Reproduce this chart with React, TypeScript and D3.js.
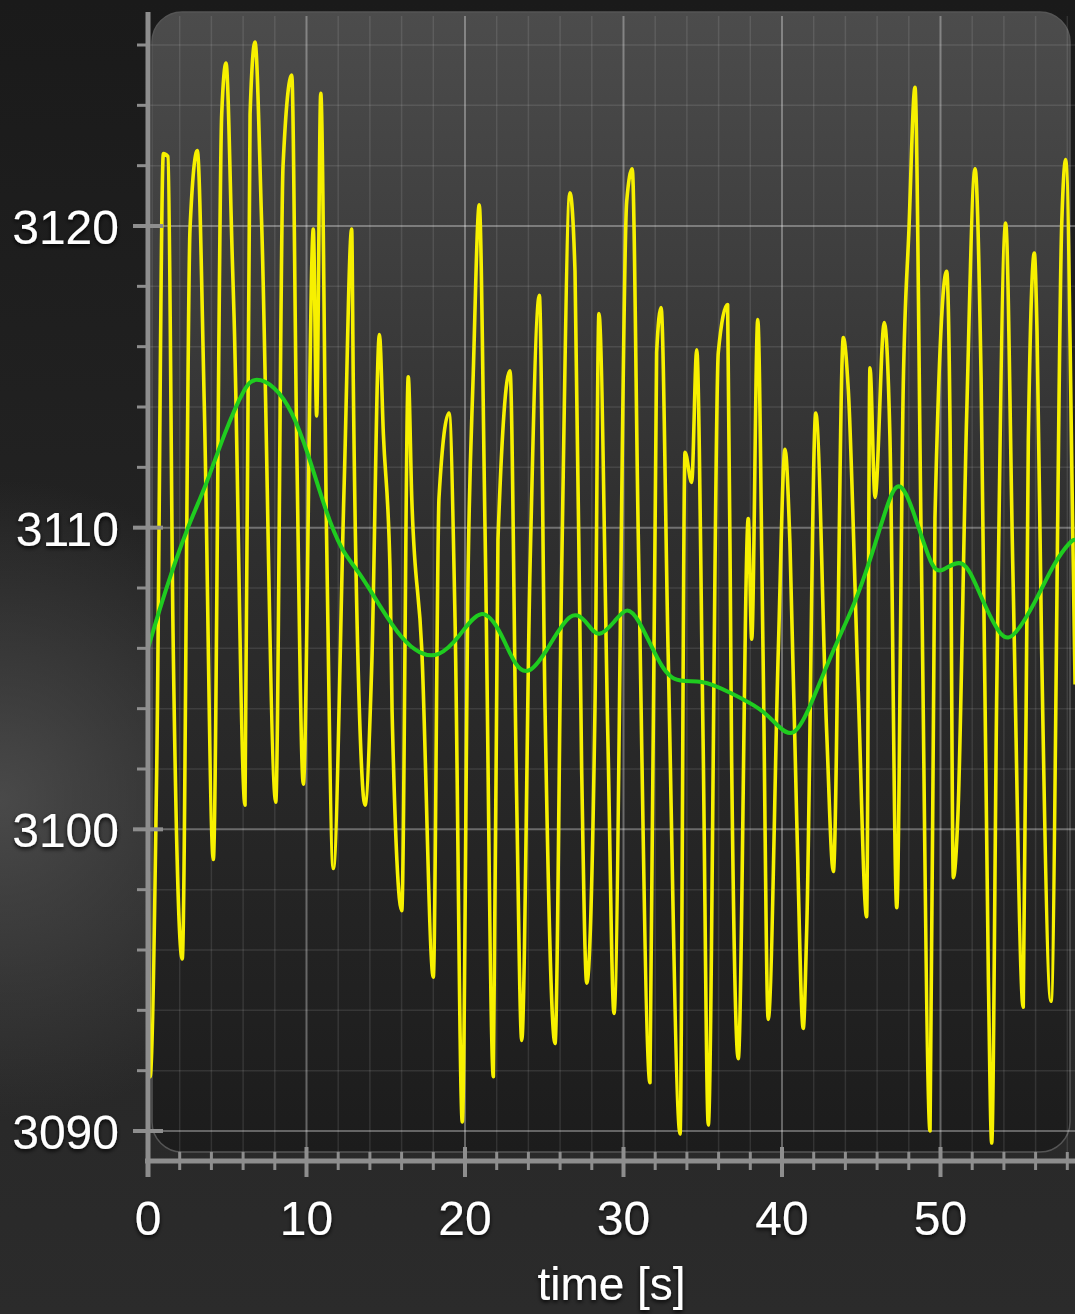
import * as d3 from "d3";

// raw signal (time in s, value)
const rawTime = [
  0.02, 0.13, 0.55, 0.97, 1.26, 1.58, 2.16, 2.65, 3.11, 3.55, 4.12, 4.65, 4.92, 5.32, 5.43, 6.12, 6.44, 6.75, 7.17,
  8.06, 8.52, 9.07, 9.38, 9.8, 10.43, 10.64, 10.9, 11.27, 11.69, 12.38, 12.85, 12.95, 13.48, 13.69, 14.11, 14.6,
  14.85, 15.27, 15.4, 16.01, 16.42, 16.64, 17.27, 18.0, 18.36, 18.99, 19.37, 19.83, 20.21, 20.52, 20.9, 21.26,
  21.79, 22.08, 22.84, 23.26, 23.58, 24.1, 24.69, 25.05, 25.68, 26.1, 26.62, 26.94, 27.36, 27.68, 28.2, 28.45,
  29.02, 29.4, 30.2, 30.55, 30.93, 31.67, 32.09, 32.37, 32.81, 33.57, 33.88, 34.3, 34.62, 35.02, 35.35, 35.98,
  36.57, 36.82, 37.24, 37.87, 38.09, 38.47, 38.8, 39.13, 39.77, 40.19, 40.5, 40.93, 41.34, 41.56, 42.13, 42.82,
  43.24, 43.87, 44.18, 44.81, 45.34, 45.55, 45.87, 46.45, 46.81, 47.24, 47.65, 48.01, 48.39, 48.77, 49.34, 49.65,
  50.39, 50.6, 50.81, 51.1, 51.65, 52.18, 52.56, 53.02, 53.23, 53.55, 54.11, 54.57, 55.22, 55.54, 55.92, 56.09,
  56.38, 56.97, 57.65, 57.9, 58.38, 58.49,
];
const rawValue = [
  3098.6, 3091.8, 3102, 3122.4, 3122.3, 3106.5, 3095.7, 3119.9, 3122.5, 3114.1, 3099, 3123.7, 3125.4, 3118.9, 3117,
  3100.8, 3123.7, 3126.1, 3120.1, 3100.9, 3122, 3125, 3112.9, 3101.5, 3119.9, 3113.7, 3124.4, 3109.6, 3098.7,
  3111.5, 3119.9, 3114.9, 3102, 3100.8, 3105.3, 3116.4, 3113.1, 3108.6, 3103.9, 3097.3, 3115, 3111, 3106, 3095.1,
  3111, 3113.8, 3107, 3090.3, 3109, 3115.1, 3120.7, 3110.1, 3091.8, 3109.6, 3115.2, 3101, 3093, 3108.6, 3117.7,
  3104, 3092.9, 3108.6, 3121.1, 3118.5, 3102, 3094.9, 3104, 3117.1, 3102.9, 3093.9, 3120.8, 3121.9, 3109.8,
  3091.6, 3115.8, 3117.3, 3106, 3089.9, 3112.5, 3111.5, 3115.9, 3103, 3090.2, 3115.8, 3117.4, 3102.4, 3092.4,
  3110.3, 3106.3, 3116.9, 3106, 3093.7, 3106, 3112.6, 3109.5, 3100.3, 3093.4, 3096.7, 3113.8, 3103.2, 3098.6,
  3116.3, 3114.6, 3104.6, 3097.1, 3115.3, 3111, 3116.8, 3113, 3097.4, 3114.7, 3119.9, 3124.6, 3110, 3090, 3110.3,
  3118.5, 3113.5, 3098.4, 3100.5, 3113.7, 3121.9, 3115, 3095.1, 3089.6, 3104.6, 3120.1, 3108.5, 3094.1, 3112.9,
  3119.1, 3116.5, 3106, 3094.3, 3120.1, 3122.2, 3108.6, 3104.8,
];

// smoothed signal
const smoothTime = [
  0, 1.07, 2.54, 3.6, 4.86, 6.12, 6.75, 8.01, 9.07, 10.09, 11.17, 12.22, 13.25, 14.74, 16.01, 17.16, 18.32, 19.56,
  21.05, 22.32, 23.15, 23.99, 25.05, 26.73, 27.78, 28.41, 29.46, 30.2, 30.93, 31.99, 33.04, 34.93, 36.83, 38.72,
  39.77, 40.71, 41.66, 42.71, 43.97, 44.61, 45.87, 46.92, 47.55, 48.28, 49.45, 50.08, 51.44, 52.39, 53.86, 54.7,
  55.96, 57.22, 58.28, 58.49,
];
const smoothValue = [
  3106, 3107.9, 3110.1, 3111.3, 3113.2, 3114.7, 3115, 3114.7, 3113.9, 3112.5, 3110.6, 3109.2, 3108.6, 3107.3,
  3106.3, 3105.8, 3105.7, 3106.3, 3107.5, 3106.5, 3105.4, 3105.1, 3105.8, 3107.4, 3106.8, 3106.3, 3106.9, 3107.4,
  3107, 3105.8, 3104.8, 3105, 3104.5, 3104, 3103.4, 3103, 3103.9, 3105.3, 3106.8, 3107.5, 3109.4, 3111.3, 3111.5,
  3110.6, 3108.6, 3108.5, 3109.1, 3107.9, 3106.2, 3106.4, 3107.5, 3108.9, 3109.6, 3109.6,
];

const xMajor = [0, 10, 20, 30, 40, 50];
const yMajor = [3090, 3100, 3110, 3120];

const WIDTH = 1075;
const HEIGHT = 1314;
const LEFT = 148;
const RIGHT = 1075;
const AXIS_Y = 1161;
const TOP = 12;

type Pt = [number, number];

export default function App() {
  const x = d3.scaleLinear().domain([0, (RIGHT - LEFT) / 15.85]).range([LEFT, RIGHT]);
  const y = d3.scaleLinear().domain([3090, 3120]).range([1131, 226]);
  const xMinor = d3.range(0, 59, 2).filter((t) => t % 10 !== 0);
  const yMinor = d3.range(3090, 3127, 2).filter((v) => v % 10 !== 0);

  const raw: Pt[] = rawTime.map((t, i) => [t, rawValue[i]]);
  const smooth: Pt[] = smoothTime.map((t, i) => [t, smoothValue[i]]);
  const line = d3
    .line<Pt>()
    .x((d) => x(d[0]))
    .y((d) => y(d[1]))
    .curve(d3.curveMonotoneX);
  const smoothLine = d3
    .line<Pt>()
    .x((d) => x(d[0]))
    .y((d) => y(d[1]))
    .curve(d3.curveBasis);

  const font = "'Liberation Sans', Arial, Helvetica, sans-serif";

  return (
    <svg
      width={WIDTH}
      height={HEIGHT}
      viewBox={`0 0 ${WIDTH} ${HEIGHT}`}
      style={{ position: "absolute", left: 0, top: 0, display: "block" }}
    >
      <defs>
        <linearGradient id="page" x1="0" y1="0" x2="0" y2="1">
          <stop offset="0" stopColor="#1a1a1a" />
          <stop offset="0.5" stopColor="#242424" />
          <stop offset="1" stopColor="#2b2b2b" />
        </linearGradient>
        <radialGradient id="glow" cx="0" cy="800" r="320" gradientUnits="userSpaceOnUse">
          <stop offset="0" stopColor="#555" stopOpacity="0.75" />
          <stop offset="1" stopColor="#555" stopOpacity="0" />
        </radialGradient>
        <linearGradient id="plot" x1="0" y1="0" x2="0" y2="1">
          <stop offset="0" stopColor="#4c4c4c" />
          <stop offset="0.45" stopColor="#2f2f2f" />
          <stop offset="1" stopColor="#1c1c1c" />
        </linearGradient>
        <clipPath id="clip">
          <rect x={LEFT} y={0} width={RIGHT - LEFT} height={AXIS_Y} />
        </clipPath>
        <filter id="shadow" x="-20%" y="-20%" width="140%" height="160%">
          <feDropShadow dx="0" dy="2" stdDeviation="2" floodColor="#000" floodOpacity="0.9" />
        </filter>
      </defs>

      <rect width={WIDTH} height={HEIGHT} fill="url(#page)" />
      <rect width={WIDTH} height={HEIGHT} fill="url(#glow)" />

      <rect x={152} y={TOP} width={918} height={1140} rx={30} fill="url(#plot)" stroke="#555" strokeWidth={1.5} />

      {/* grid */}
      <g>
        {xMinor.map((t) => (
          <line key={`xm${t}`} x1={x(t)} x2={x(t)} y1={TOP + 4} y2={AXIS_Y} stroke="#fff" strokeOpacity={0.1} strokeWidth={1.5} />
        ))}
        {yMinor.map((v) => (
          <line key={`ym${v}`} x1={LEFT} x2={RIGHT} y1={y(v)} y2={y(v)} stroke="#fff" strokeOpacity={0.1} strokeWidth={1.5} />
        ))}
        {xMajor.map((t) => (
          <line key={`xM${t}`} x1={x(t)} x2={x(t)} y1={TOP + 4} y2={AXIS_Y} stroke="#fff" strokeOpacity={0.32} strokeWidth={2} />
        ))}
        {yMajor.map((v) => (
          <line key={`yM${v}`} x1={LEFT} x2={RIGHT} y1={y(v)} y2={y(v)} stroke="#fff" strokeOpacity={0.32} strokeWidth={2} />
        ))}
      </g>

      {/* series */}
      <g clipPath="url(#clip)">
        <path d={line(raw) ?? undefined} fill="none" stroke="#f7f000" strokeWidth={3.6} strokeLinejoin="round" />
        <path d={smoothLine(smooth) ?? undefined} fill="none" stroke="#1fcc1f" strokeWidth={4} strokeLinejoin="round" />
      </g>

      {/* axes */}
      <g stroke="#8e8e8e" strokeLinecap="butt">
        <line x1={LEFT} x2={LEFT} y1={TOP} y2={AXIS_Y + 16} strokeWidth={5} />
        <line x1={LEFT - 3} x2={RIGHT} y1={AXIS_Y} y2={AXIS_Y} strokeWidth={5} />
        {yMinor.map((v) => (
          <line key={`yt${v}`} x1={LEFT - 11} x2={LEFT} y1={y(v)} y2={y(v)} strokeWidth={3} />
        ))}
        {yMajor.map((v) => (
          <line key={`yT${v}`} x1={LEFT - 15} x2={LEFT + 15} y1={y(v)} y2={y(v)} strokeWidth={4} />
        ))}
        {xMinor.map((t) => (
          <line key={`xt${t}`} x1={x(t)} x2={x(t)} y1={AXIS_Y - 9} y2={AXIS_Y + 9} strokeWidth={3} />
        ))}
        {xMajor.map((t) => (
          <line key={`xT${t}`} x1={x(t)} x2={x(t)} y1={AXIS_Y - 14} y2={AXIS_Y + 16} strokeWidth={4} />
        ))}
      </g>

      {/* labels */}
      <g fill="#fff" fontFamily={font} fontSize={48} filter="url(#shadow)">
        {yMajor.map((v) => (
          <text key={`yl${v}`} x={119} y={y(v) + 18} textAnchor="end">
            {v}
          </text>
        ))}
        {xMajor.map((t) => (
          <text key={`xl${t}`} x={x(t)} y={1235} textAnchor="middle">
            {t}
          </text>
        ))}
        <text x={(LEFT + RIGHT) / 2} y={1300} textAnchor="middle" fontSize={46}>
          time [s]
        </text>
      </g>
    </svg>
  );
}
